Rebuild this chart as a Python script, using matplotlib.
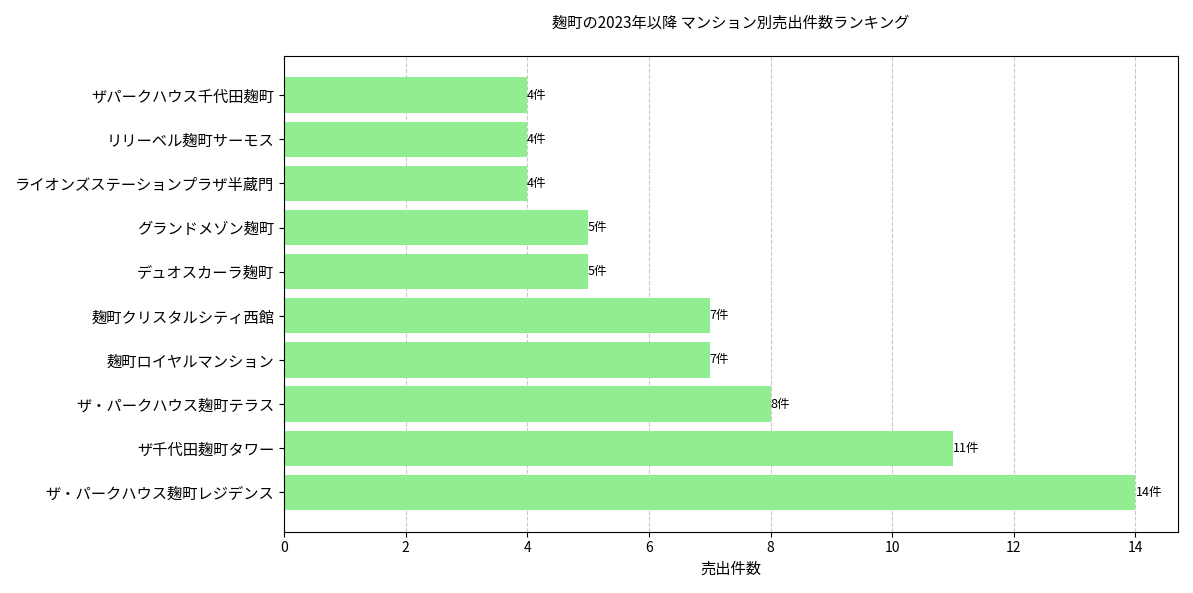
import matplotlib.pyplot as plt

plt.rcParams['font.family'] = ['Noto Sans CJK JP', 'DejaVu Sans']

names = [
    "ザ・パークハウス麹町レジデンス",
    "ザ千代田麹町タワー",
    "ザ・パークハウス麹町テラス",
    "麹町ロイヤルマンション",
    "麹町クリスタルシティ西館",
    "デュオスカーラ麹町",
    "グランドメゾン麹町",
    "ライオンズステーションプラザ半蔵門",
    "リリーベル麹町サーモス",
    "ザパークハウス千代田麹町",
]
counts = [14, 11, 8, 7, 7, 5, 5, 4, 4, 4]

fig, ax = plt.subplots(figsize=(11.93, 5.93), dpi=100)
bars = ax.barh(names, counts, color="lightgreen")
for b, c in zip(bars, counts):
    ax.text(b.get_width(), b.get_y() + b.get_height() / 2, f"{c}件",
            va="center", ha="left", fontsize=9)

ax.set_xlabel("売出件数", fontsize=11)
ax.set_title("麹町の2023年以降 マンション別売出件数ランキング", fontsize=11, pad=20)
ax.tick_params(axis="y", labelsize=11)
ax.grid(axis="x", linestyle="--", alpha=0.7)
ax.set_axisbelow(True)

plt.tight_layout()
plt.savefig("out.png")
